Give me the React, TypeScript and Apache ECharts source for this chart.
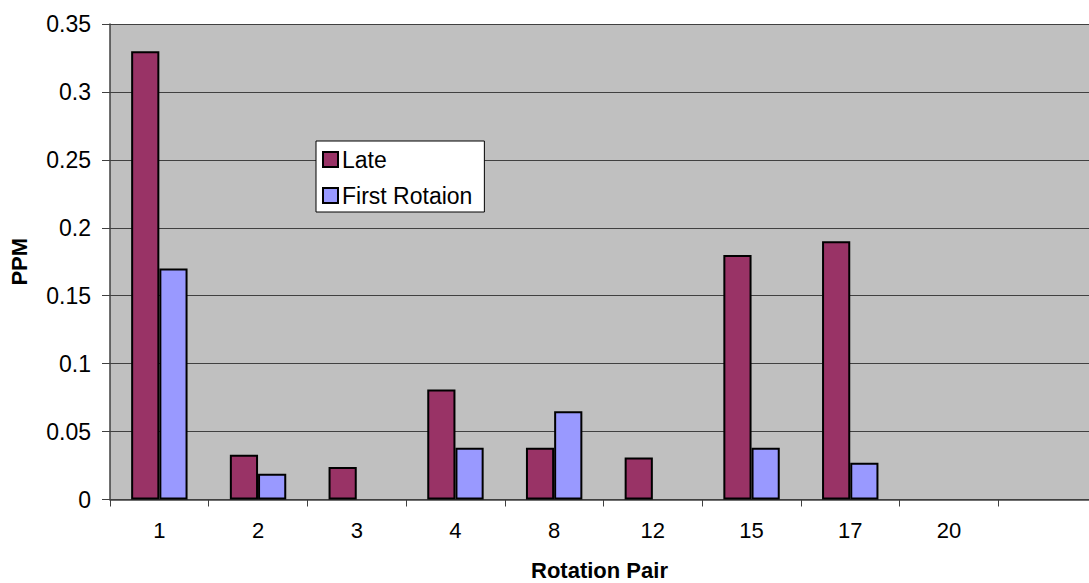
import React, { useEffect, useRef } from "react";
import * as echarts from "echarts";

// Rotation pairs along the x axis (last slot is an empty category)
const rotationPairs = ["1", "2", "3", "4", "8", "12", "15", "17", "20", ""];

// PPM readings per rotation pair; null where nothing was recorded
const lateValues = [0.33, 0.033, 0.024, 0.081, 0.038, 0.031, 0.18, 0.19, null, null];
const firstRotationValues = [0.17, 0.019, null, 0.038, 0.065, null, 0.038, 0.027, null, null];

const yTicks = { min: 0, max: 0.35, interval: 0.05 };

const FONT = "'Liberation Sans', Arial, sans-serif";

export default function App() {
  const ref = useRef<HTMLDivElement>(null);

  useEffect(() => {
    if (!ref.current) return;
    const chart = echarts.init(ref.current, undefined, { renderer: "svg" });

    const barStyle = (color: string) => ({
      color,
      borderColor: "#000000",
      borderWidth: 2,
    });

    chart.setOption({
      animation: false,
      backgroundColor: "#ffffff",
      textStyle: { fontFamily: FONT },
      grid: {
        left: 110,
        top: 24,
        right: -8,
        bottom: 83.5,
        show: true,
        backgroundColor: "#c0c0c0",
        borderWidth: 0,
        containLabel: false,
        outerBoundsMode: "none",
      },
      legend: {
        orient: "vertical",
        left: 316,
        top: 141,
        padding: [7, 12, 5, 6],
        itemWidth: 15,
        itemHeight: 15,
        itemGap: 13,
        backgroundColor: "#ffffff",
        borderColor: "#000000",
        borderWidth: 1,
        borderRadius: 0,
        icon: "rect",
        textStyle: {
          fontFamily: FONT,
          fontSize: 23,
          lineHeight: 22,
          color: "#000000",
          padding: [0, 0, 0, -1],
        },
        data: ["Late", "First Rotaion"],
      },
      xAxis: {
        type: "category",
        data: rotationPairs,
        boundaryGap: true,
        name: "Rotation Pair",
        nameLocation: "middle",
        nameGap: 60,
        nameTextStyle: {
          fontFamily: FONT,
          fontSize: 22,
          fontWeight: "bold",
          color: "#000000",
          padding: [0, 8, 0, 0],
        },
        axisLine: { show: true, lineStyle: { color: "#404040", width: 1.5 } },
        axisTick: {
          show: true,
          alignWithLabel: false,
          interval: 0,
          length: 7,
          lineStyle: { color: "#404040", width: 1 },
        },
        axisLabel: {
          interval: 0,
          margin: 20,
          fontFamily: FONT,
          fontSize: 22,
          color: "#000000",
        },
        splitLine: { show: false },
      },
      yAxis: {
        type: "value",
        min: yTicks.min,
        max: yTicks.max,
        interval: yTicks.interval,
        name: "PPM",
        nameLocation: "middle",
        nameGap: 80,
        nameTextStyle: {
          fontFamily: FONT,
          fontSize: 22,
          fontWeight: "bold",
          color: "#000000",
        },
        axisLine: { show: true, lineStyle: { color: "#404040", width: 1.5 } },
        axisTick: { show: true, length: 8, lineStyle: { color: "#404040", width: 1 } },
        axisLabel: {
          margin: 19,
          fontFamily: FONT,
          fontSize: 23,
          color: "#000000",
        },
        splitLine: { show: true, lineStyle: { color: "#404040", width: 1 } },
      },
      series: [
        {
          name: "Late",
          type: "bar",
          data: lateValues,
          barGap: "0%",
          barCategoryGap: "42.86%",
          itemStyle: barStyle("#993366"),
        },
        {
          name: "First Rotaion",
          type: "bar",
          data: firstRotationValues,
          barGap: "0%",
          barCategoryGap: "42.86%",
          itemStyle: barStyle("#9999ff"),
        },
      ],
    });

    return () => chart.dispose();
  }, []);

  return (
    <div
      ref={ref}
      style={{ position: "fixed", left: 0, top: 0, width: 1089, height: 583 }}
    />
  );
}
